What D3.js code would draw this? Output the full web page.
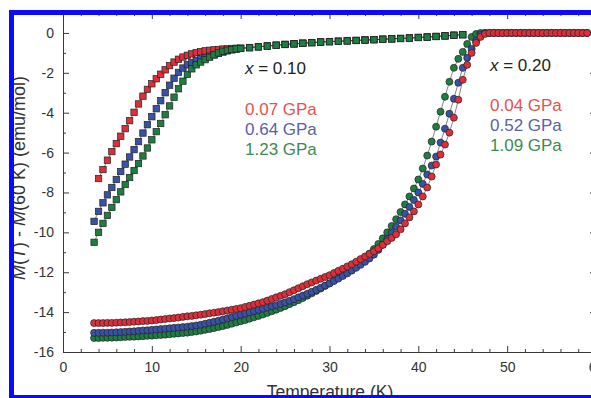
<!DOCTYPE html>
<html>
<head>
<meta charset="utf-8">
<script src="https://cdn.jsdelivr.net/npm/d3@7"></script>
<style>
  html, body { margin: 0; padding: 0; background: #fff; }
  svg { display: block; font-family: 'Liberation Sans', Arial, sans-serif; }
</style>
</head>
<body>
<div id="chart"></div>
<script>
// x = 0.10 sample (squares), temperature in K
const squareTemps = [3.5, 4, 4.5, 5, 5.5, 6, 6.5, 7, 7.5, 8,
  8.5, 9, 9.5, 10, 10.5, 11, 11.5, 12, 12.5, 13,
  13.5, 14, 14.5, 15, 15.5, 16, 16.5, 17, 17.5, 18,
  18.5, 19, 19.5, 20, 21, 22, 23, 24, 25, 26,
  27, 28, 29, 30, 31, 32, 33, 34, 35, 36,
  37, 38, 39, 40, 41, 42, 43, 44, 45];
const sq007 = [null, -7.30, -6.85, -6.38, -5.95, -5.55, -5.18, -4.80, -4.40, -3.98,
  -3.56, -3.17, -2.83, -2.55, -2.30, -2.07, -1.85, -1.64, -1.46, -1.32,
  -1.21, -1.12, -1.05, -0.99, -0.94, -0.90, -0.87, -0.85, -0.83, -0.81,
  -0.80, -0.78, -0.77, -0.76, -0.73, -0.69, -0.65, -0.61, -0.57, -0.54,
  -0.51, -0.48, -0.45, -0.43, -0.41, -0.39, -0.37, -0.35, -0.33, -0.31,
  -0.29, -0.27, -0.25, -0.22, -0.20, -0.17, -0.14, -0.11, -0.08];
const sq064 = [-9.45, -8.95, -8.52, -8.12, -7.75, -7.35, -6.95, -6.58, -6.22, -5.85,
  -5.45, -5.02, -4.60, -4.20, -3.80, -3.40, -3.00, -2.62, -2.27, -1.98,
  -1.76, -1.60, -1.48, -1.38, -1.30, -1.24, -1.17, -1.10, -1.03, -0.96,
  -0.90, -0.85, -0.81, -0.78, -0.74, -0.70, -0.66, -0.62, -0.58, -0.55,
  -0.52, -0.49, -0.46, -0.44, -0.42, -0.40, -0.38, -0.36, -0.34, -0.32,
  -0.30, -0.28, -0.26, -0.23, -0.21, -0.18, -0.15, -0.12, -0.09];
const sq123 = [-10.50, -10.00, -9.55, -9.15, -8.75, -8.36, -7.97, -7.60, -7.25, -6.90,
  -6.55, -6.17, -5.77, -5.36, -4.95, -4.54, -4.10, -3.66, -3.22, -2.80,
  -2.42, -2.08, -1.80, -1.60, -1.46, -1.34, -1.22, -1.10, -1.00, -0.92,
  -0.87, -0.83, -0.80, -0.78, -0.74, -0.70, -0.66, -0.62, -0.58, -0.55,
  -0.52, -0.49, -0.46, -0.44, -0.42, -0.40, -0.38, -0.36, -0.34, -0.32,
  -0.30, -0.28, -0.26, -0.23, -0.21, -0.18, -0.15, -0.12, -0.09];

// x = 0.20 sample (circles)
const circleTemps = [3.5, 4, 4.5, 5, 5.5, 6, 6.5, 7, 7.5, 8,
  8.5, 9, 9.5, 10, 10.5, 11, 11.5, 12, 12.5, 13,
  13.5, 14, 14.5, 15, 15.5, 16, 16.5, 17, 17.5, 18,
  18.5, 19, 19.5, 20, 20.5, 21, 21.5, 22, 22.5, 23,
  23.5, 24, 24.5, 25, 25.5, 26, 26.5, 27, 27.5, 28,
  28.5, 29, 29.5, 30, 30.5, 31, 31.5, 32, 32.5, 33,
  33.5, 34, 34.5, 35, 35.5, 36, 36.5, 37, 37.5, 38,
  38.5, 39, 39.5, 40, 40.5, 41, 41.5, 42, 42.5, 43,
  43.5, 44, 44.5, 45, 45.5, 46, 46.5, 47, 47.5, 48,
  48.5, 49, 49.5, 50, 50.5, 51, 51.5, 52, 52.5, 53,
  53.5, 54, 54.5, 55, 55.5, 56, 56.5, 57, 57.5, 58,
  58.5, 59];
const ci004 = [-14.55, -14.55, -14.55, -14.54, -14.54, -14.53, -14.52, -14.51, -14.50, -14.48,
  -14.47, -14.45, -14.44, -14.42, -14.40, -14.37, -14.35, -14.32, -14.30, -14.27,
  -14.24, -14.21, -14.19, -14.16, -14.13, -14.10, -14.06, -14.03, -14.00, -13.96,
  -13.92, -13.88, -13.84, -13.80, -13.74, -13.68, -13.62, -13.56, -13.50, -13.42,
  -13.34, -13.26, -13.18, -13.10, -13.00, -12.90, -12.80, -12.70, -12.60, -12.51,
  -12.42, -12.33, -12.24, -12.15, -12.04, -11.93, -11.82, -11.71, -11.60, -11.47,
  -11.34, -11.21, -11.08, -10.95, -10.80, -10.63, -10.45, -10.28, -10.10, -9.85,
  -9.55, -9.25, -8.95, -8.60, -8.20, -7.75, -7.20, -6.60, -6.10, -5.60,
  -5.00, -4.25, -3.35, -2.35, -1.60, -1.00, -0.50, -0.20, -0.05, 0,
  0, 0, 0, 0, 0, 0, 0, 0, 0, 0,
  0, 0, 0, 0, 0, 0, 0, 0, 0, 0,
  0, 0];
const ci052 = [-15.04, -15.04, -15.03, -15.03, -15.02, -15.01, -15.00, -14.99, -14.97, -14.96,
  -14.94, -14.92, -14.91, -14.89, -14.87, -14.85, -14.83, -14.81, -14.79, -14.77,
  -14.75, -14.73, -14.70, -14.67, -14.63, -14.58, -14.53, -14.48, -14.43, -14.37,
  -14.31, -14.25, -14.19, -14.13, -14.07, -14.01, -13.95, -13.89, -13.83, -13.77,
  -13.71, -13.65, -13.58, -13.51, -13.43, -13.35, -13.26, -13.17, -13.08, -12.98,
  -12.88, -12.78, -12.67, -12.56, -12.44, -12.32, -12.19, -12.06, -11.92, -11.78,
  -11.63, -11.48, -11.31, -11.12, -10.88, -10.62, -10.33, -10.03, -9.72, -9.40,
  -9.07, -8.73, -8.38, -8.00, -7.57, -7.10, -6.65, -6.20, -5.50, -4.80,
  -4.05, -3.30, -2.50, -1.75, -1.25, -0.80, -0.40, -0.10, 0, 0,
  0, 0, 0, 0, 0, 0, 0, 0, 0, 0,
  0, 0, 0, 0, 0, 0, 0, 0, 0, 0,
  0, 0];
const ci109 = [-15.30, -15.30, -15.29, -15.29, -15.28, -15.27, -15.26, -15.25, -15.24, -15.23,
  -15.22, -15.21, -15.19, -15.18, -15.16, -15.15, -15.13, -15.11, -15.09, -15.07,
  -15.05, -15.03, -15.00, -14.97, -14.93, -14.89, -14.85, -14.80, -14.75, -14.70,
  -14.64, -14.58, -14.52, -14.46, -14.40, -14.33, -14.26, -14.19, -14.12, -14.04,
  -13.96, -13.88, -13.79, -13.70, -13.60, -13.50, -13.40, -13.29, -13.18, -13.06,
  -12.94, -12.82, -12.69, -12.56, -12.42, -12.28, -12.13, -11.98, -11.82, -11.65,
  -11.47, -11.28, -11.07, -10.84, -10.58, -10.30, -10.00, -9.68, -9.34, -8.98,
  -8.60, -8.20, -7.80, -7.35, -6.80, -6.15, -5.45, -4.70, -3.95, -3.20,
  -2.45, -1.75, -1.30, -0.95, -0.55, -0.20, -0.05, 0, 0, 0,
  0, 0, 0, 0, 0, 0, 0, 0, 0, 0,
  0, 0, 0, 0, 0, 0, 0, 0, 0, 0,
  0, 0];

const labels010 = ['0.07 GPa', '0.64 GPa', '1.23 GPa'];
const labels020 = ['0.04 GPa', '0.52 GPa', '1.09 GPa'];
const xMajor = [0, 10, 20, 30, 40, 50, 60];
const xMinor = [2, 4, 6, 8, 12, 14, 16, 18, 22, 24, 26, 28, 32, 34, 36, 38, 42, 44, 46, 48, 52, 54, 56, 58];
const yMajor = [0, -2, -4, -6, -8, -10, -12, -14, -16];
const yMinor = [-1, -3, -5, -7, -9, -11, -13, -15];

const width = 591, height = 398;
const markColors = ['#dd2f3a', '#3a52a6', '#1f7d42'];
const textColors = ['#e8504f', '#5960ae', '#3c8a50'];
const axisColor = '#3a3a3a';

const svg = d3.select('#chart')
  .append('svg')
  .attr('width', width)
  .attr('height', height);

const x = d3.scaleLinear().domain([0, 60]).range([63, 596]);
const y = d3.scaleLinear().domain([-16, 1]).range([352, 13]);

// axes: ticks point inward on all four sides
function styleAxis(g) {
  g.selectAll('path, line').attr('stroke', axisColor);
  g.selectAll('text').attr('fill', '#333').style('font-size', '14px')
    .style('font-family', "'Liberation Sans', Arial, sans-serif");
}
const noLabel = () => '';

svg.append('g').attr('transform', `translate(0,${y(-16)})`)
  .call(d3.axisBottom(x).tickValues(xMajor).tickSizeInner(-6).tickSizeOuter(0).tickPadding(10).tickFormat(d => String(d)))
  .call(styleAxis);
svg.append('g').attr('transform', `translate(0,${y(-16)})`)
  .call(d3.axisBottom(x).tickValues(xMinor).tickSizeInner(-3).tickSizeOuter(0).tickFormat(noLabel))
  .call(g => g.select('.domain').remove())
  .call(styleAxis);
svg.append('g').attr('transform', `translate(0,${y(1)})`)
  .call(d3.axisTop(x).tickValues(xMajor).tickSizeInner(-6).tickSizeOuter(0).tickFormat(noLabel))
  .call(styleAxis);
svg.append('g').attr('transform', `translate(0,${y(1)})`)
  .call(d3.axisTop(x).tickValues(xMinor).tickSizeInner(-3).tickSizeOuter(0).tickFormat(noLabel))
  .call(g => g.select('.domain').remove())
  .call(styleAxis);

svg.append('g').attr('transform', `translate(${x(0)},0)`)
  .call(d3.axisLeft(y).tickValues(yMajor).tickSizeInner(-6).tickSizeOuter(0).tickPadding(9).tickFormat(d => String(d)))
  .call(styleAxis);
svg.append('g').attr('transform', `translate(${x(0)},0)`)
  .call(d3.axisLeft(y).tickValues(yMinor).tickSizeInner(-3).tickSizeOuter(0).tickFormat(noLabel))
  .call(g => g.select('.domain').remove())
  .call(styleAxis);
svg.append('g').attr('transform', `translate(${x(60)},0)`)
  .call(d3.axisRight(y).tickValues(yMajor).tickSizeInner(-6).tickSizeOuter(0).tickFormat(noLabel))
  .call(styleAxis);
svg.append('g').attr('transform', `translate(${x(60)},0)`)
  .call(d3.axisRight(y).tickValues(yMinor).tickSizeInner(-3).tickSizeOuter(0).tickFormat(noLabel))
  .call(g => g.select('.domain').remove())
  .call(styleAxis);

// series
const toPoints = (temps, vals) => temps.map((t, i) => ({t, m: vals[i]})).filter(d => d.m !== null);
const line = d3.line().x(d => x(d.t)).y(d => y(d.m));

const squareSeries = [sq007, sq064, sq123];
const circleSeries = [ci004, ci052, ci109];

// squares: red, blue, then green on top
squareSeries.forEach((vals, i) => {
  const pts = toPoints(squareTemps, vals);
  const g = svg.append('g');
  g.append('path').datum(pts)
    .attr('d', line)
    .attr('fill', 'none')
    .attr('stroke', '#333')
    .attr('stroke-width', 0.6);
  g.selectAll('rect').data(pts).join('rect')
    .attr('x', d => x(d.t) - 3.2)
    .attr('y', d => y(d.m) - 3.2)
    .attr('width', 6.4)
    .attr('height', 6.4)
    .attr('fill', markColors[i])
    .attr('stroke', '#222')
    .attr('stroke-width', 0.7);
});

// circles: green, blue, then red on top
[2, 1, 0].forEach(i => {
  const pts = toPoints(circleTemps, circleSeries[i]);
  const g = svg.append('g');
  g.append('path').datum(pts)
    .attr('d', line)
    .attr('fill', 'none')
    .attr('stroke', '#333')
    .attr('stroke-width', 0.6);
  g.selectAll('circle').data(pts).join('circle')
    .attr('cx', d => x(d.t))
    .attr('cy', d => y(d.m))
    .attr('r', 3.5)
    .attr('fill', markColors[i])
    .attr('stroke', '#222')
    .attr('stroke-width', 0.7);
});

// annotations
function composition(xPos, yPos, value) {
  const t = svg.append('text')
    .attr('x', xPos)
    .attr('y', yPos)
    .attr('fill', '#222')
    .style('font-size', '17px');
  t.append('tspan').style('font-style', 'italic').text('x');
  t.append('tspan').text(' = ' + value);
}
composition(245, 74, '0.10');
composition(490, 71, '0.20');

svg.selectAll('.lab010').data(labels010).join('text')
  .attr('class', 'lab010')
  .attr('x', 245)
  .attr('y', (d, i) => 115 + i * 20)
  .attr('fill', (d, i) => textColors[i])
  .style('font-size', '17px')
  .text(d => d);
svg.selectAll('.lab020').data(labels020).join('text')
  .attr('class', 'lab020')
  .attr('x', 490)
  .attr('y', (d, i) => 111 + i * 20)
  .attr('fill', (d, i) => textColors[i])
  .style('font-size', '17px')
  .text(d => d);

// axis titles
svg.append('text')
  .attr('x', 330)
  .attr('y', 397.5)
  .attr('text-anchor', 'middle')
  .attr('fill', '#333')
  .style('font-size', '17.5px')
  .text('Temperature (K)');

const yTitle = svg.append('text')
  .attr('transform', 'translate(25,178) rotate(-90)')
  .attr('text-anchor', 'middle')
  .attr('fill', '#333')
  .style('font-size', '18px');
yTitle.append('tspan').style('font-style', 'italic').text('M');
yTitle.append('tspan').text('(');
yTitle.append('tspan').style('font-style', 'italic').text('T');
yTitle.append('tspan').text(') - ');
yTitle.append('tspan').style('font-style', 'italic').text('M');
yTitle.append('tspan').text('(60 K) (emu/mol)');

// blue frame around the figure
svg.append('rect')
  .attr('x', 11.5)
  .attr('y', 12.5)
  .attr('width', 700)
  .attr('height', 385)
  .attr('fill', 'none')
  .attr('stroke', '#0a0aff')
  .attr('stroke-width', 5);
</script>
</body>
</html>
